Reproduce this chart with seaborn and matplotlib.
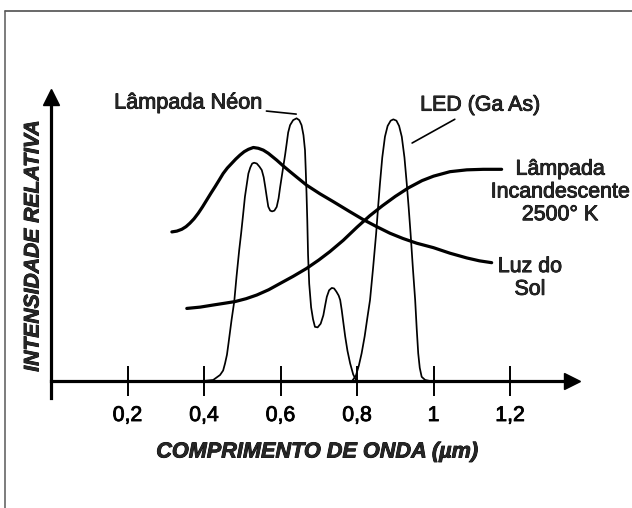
import matplotlib
matplotlib.use("Agg")
import matplotlib.pyplot as plt
import matplotlib.patheffects as pe
from matplotlib.lines import Line2D
import seaborn as sns

# curves (x in um, y in relative intensity, neon peak ~ 1)
sun_x = [0.316, 0.329, 0.342, 0.353, 0.363, 0.374, 0.385, 0.396, 0.407, 0.418,
         0.429, 0.440, 0.450, 0.461, 0.472, 0.483, 0.494, 0.505, 0.516, 0.529,
         0.542, 0.555, 0.568, 0.590, 0.607, 0.625, 0.646, 0.668, 0.703, 0.738,
         0.780, 0.816, 0.850, 0.886, 0.920, 0.956, 1.000, 1.043, 1.087, 1.120,
         1.152]
sun_y = [0.567, 0.570, 0.577, 0.587, 0.600, 0.617, 0.638, 0.662, 0.688, 0.714,
         0.739, 0.765, 0.789, 0.810, 0.827, 0.844, 0.859, 0.872, 0.881, 0.888,
         0.885, 0.878, 0.866, 0.840, 0.818, 0.796, 0.771, 0.745, 0.712, 0.682,
         0.645, 0.614, 0.588, 0.562, 0.542, 0.524, 0.507, 0.486, 0.468, 0.457,
         0.450]

inc_x = [0.355, 0.390, 0.424, 0.455, 0.481, 0.510, 0.538, 0.569, 0.599, 0.633,
         0.668, 0.700, 0.729, 0.764, 0.800, 0.833, 0.866, 0.900, 0.935, 0.970,
         1.000, 1.043, 1.087, 1.130, 1.178]
inc_y = [0.276, 0.281, 0.289, 0.296, 0.302, 0.313, 0.327, 0.347, 0.371, 0.398,
         0.428, 0.460, 0.492, 0.535, 0.585, 0.628, 0.666, 0.702, 0.735, 0.762,
         0.779, 0.796, 0.803, 0.805, 0.805]

neon_x = [0.398, 0.424, 0.442, 0.450, 0.455, 0.460, 0.464, 0.472, 0.479, 0.485,
          0.492, 0.497, 0.502, 0.507, 0.512, 0.516, 0.521, 0.526, 0.531, 0.538,
          0.545, 0.551, 0.556, 0.560, 0.564, 0.568, 0.573, 0.578, 0.584, 0.590,
          0.595, 0.599, 0.603, 0.607, 0.612, 0.616, 0.620, 0.625, 0.633, 0.642,
          0.649, 0.655, 0.660, 0.664, 0.666, 0.668, 0.670, 0.672, 0.675, 0.680,
          0.685, 0.690, 0.697, 0.705, 0.712, 0.717, 0.721, 0.727, 0.734, 0.740,
          0.746, 0.752, 0.756, 0.760, 0.764, 0.769, 0.775, 0.782, 0.790, 0.797,
          0.803]
neon_y = [0.000, 0.004, 0.023, 0.040, 0.067, 0.100, 0.143, 0.232, 0.302, 0.397,
          0.498, 0.561, 0.630, 0.701, 0.750, 0.789, 0.812, 0.827, 0.830, 0.827,
          0.815, 0.802, 0.775, 0.739, 0.700, 0.663, 0.648, 0.645, 0.648, 0.662,
          0.695, 0.737, 0.775, 0.813, 0.860, 0.902, 0.945, 0.973, 0.992, 0.999,
          0.992, 0.973, 0.935, 0.878, 0.800, 0.713, 0.610, 0.480, 0.370, 0.280,
          0.235, 0.206, 0.204, 0.218, 0.250, 0.290, 0.320, 0.345, 0.354, 0.352,
          0.340, 0.325, 0.308, 0.270, 0.225, 0.170, 0.115, 0.067, 0.025, 0.005,
          0.000]

led_x = [0.787, 0.797, 0.805, 0.812, 0.820, 0.827, 0.834, 0.842, 0.850, 0.855,
         0.860, 0.866, 0.873, 0.880, 0.888, 0.895, 0.903, 0.910, 0.917, 0.924,
         0.930, 0.935, 0.940, 0.946, 0.952, 0.956, 0.960, 0.964, 0.969, 0.978,
         0.991]
led_y = [0.000, 0.020, 0.060, 0.105, 0.170, 0.240, 0.308, 0.430, 0.561, 0.660,
         0.751, 0.850, 0.929, 0.970, 0.990, 0.995, 0.990, 0.970, 0.929, 0.850,
         0.751, 0.660, 0.561, 0.430, 0.308, 0.200, 0.105, 0.050, 0.016, 0.004,
         0.000]

tick_pos = [0.2, 0.4, 0.6, 0.8, 1.0, 1.2]
tick_lbl = ["0,2", "0,4", "0,6", "0,8", "1", "1,2"]

sns.set_style("white")
plt.rcParams['font.family'] = ['Liberation Sans', 'DejaVu Sans']

# thicken text a little, the scan prints heavy
heavy = [pe.withStroke(linewidth=0.6, foreground='black')]

fig = plt.figure(figsize=(6.32, 5.08), dpi=100)
ax = fig.add_axes([51 / 632, 110 / 508, 521 / 632, 301 / 508])
ax.set_xlim(0, 1.362)
ax.set_ylim(-0.0646, 1.08)

line_kw = dict(ax=ax, color='black', sort=False, estimator=None,
               solid_joinstyle='round', solid_capstyle='round')
sns.lineplot(x=sun_x, y=sun_y, lw=2.3, **line_kw)
sns.lineplot(x=inc_x, y=inc_y, lw=2.3, **line_kw)
sns.lineplot(x=neon_x, y=neon_y, lw=1.25, **line_kw)
sns.lineplot(x=led_x, y=led_y, lw=1.25, **line_kw)

# axes as arrows
for s in ['top', 'right']:
    ax.spines[s].set_visible(False)
ax.spines['bottom'].set_position(('data', 0))
ax.spines['left'].set_position(('data', 0))
for s in ['bottom', 'left']:
    ax.spines[s].set_linewidth(2.3)
    ax.spines[s].set_color('black')
ax.plot(1, 0, '>k', ms=12, transform=ax.get_yaxis_transform(), clip_on=False)
ax.plot(0, 1, '^k', ms=12, transform=ax.get_xaxis_transform(), clip_on=False)

ax.set_xticks(tick_pos)
ax.set_xticklabels(tick_lbl)
ax.set_yticks([])
ax.tick_params(axis='x', bottom=True, direction='inout', length=22, width=1.4, pad=7,
               labelsize=15.3, colors='black')
for t in ax.get_xticklabels():
    t.set_path_effects(heavy)
ax.set_xlabel('')
ax.set_ylabel('')

fig.text(317 / 632, 1 - 452 / 508, 'COMPRIMENTO DE ONDA (µm)', ha='center', va='center',
         fontsize=15.6, fontweight='bold', fontstyle='italic', path_effects=heavy)
fig.text(33 / 632, 1 - 246 / 508, 'INTENSIDADE RELATIVA', ha='center', va='center',
         rotation=90, fontsize=15.2, fontweight='bold', fontstyle='italic', path_effects=heavy)

# curve labels
ax.annotate('Lâmpada Néon', xy=(0.641, 1.015), xytext=(0.358, 1.057), ha='center', va='center',
            fontsize=15.6, annotation_clip=False, path_effects=heavy,
            arrowprops=dict(arrowstyle='-', lw=1.2, color='black', shrinkA=1, shrinkB=0))
ax.annotate('LED (Ga As)', xy=(0.944, 0.905), xytext=(1.122, 1.049), ha='center', va='center',
            fontsize=15.4, annotation_clip=False, path_effects=heavy,
            arrowprops=dict(arrowstyle='-', lw=1.2, color='black', shrinkA=2, shrinkB=0))
ax.text(1.331, 0.719, 'Lâmpada\nIncandescente\n2500° K', ha='center', va='center',
        fontsize=15.4, linespacing=1.25, clip_on=False, path_effects=heavy)
ax.text(1.252, 0.392, 'Luz do\nSol', ha='center', va='center',
        fontsize=15.4, linespacing=1.25, clip_on=False, path_effects=heavy)

# scanned page frame
fig.add_artist(Line2D([5 / 632, 1], [1 - 11 / 508] * 2, transform=fig.transFigure,
                      color='0.25', lw=1.1))
fig.add_artist(Line2D([5 / 632] * 2, [0, 1 - 11 / 508], transform=fig.transFigure,
                      color='0.35', lw=1.1))

fig.savefig('out.png', dpi=100)
